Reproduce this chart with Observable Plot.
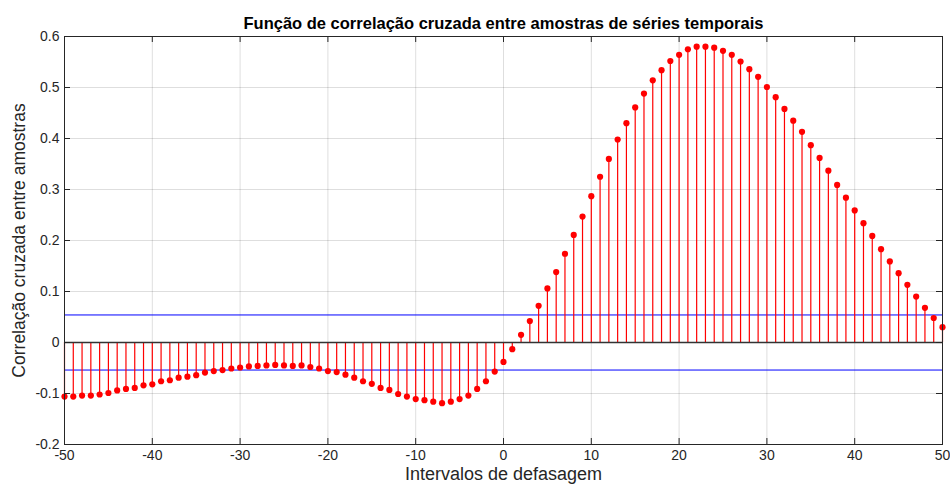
<!DOCTYPE html>
<html>
<head>
<meta charset="utf-8">
<script src="https://cdn.jsdelivr.net/npm/d3@7"></script>
<script src="https://cdn.jsdelivr.net/npm/@observablehq/plot@0.6"></script>
<style>
  html, body { margin: 0; padding: 0; background: #fff; }
  #chart svg { display: block; }
</style>
</head>
<body>
<div id="chart"></div>
<script>
const titleText = "Função de correlação cruzada entre amostras de séries temporais";
const xLabel = "Intervalos de defasagem";
const yLabel = "Correlação cruzada entre amostras";

const lags = [
  -50,-49,-48,-47,-46,-45,-44,-43,-42,-41,
  -40,-39,-38,-37,-36,-35,-34,-33,-32,-31,
  -30,-29,-28,-27,-26,-25,-24,-23,-22,-21,
  -20,-19,-18,-17,-16,-15,-14,-13,-12,-11,
  -10,-9,-8,-7,-6,-5,-4,-3,-2,-1,
  0,1,2,3,4,5,6,7,8,9,
  10,11,12,13,14,15,16,17,18,19,
  20,21,22,23,24,25,26,27,28,29,
  30,31,32,33,34,35,36,37,38,39,
  40,41,42,43,44,45,46,47,48,49,50
];
const xcf = [
  -0.106,-0.106,-0.104,-0.104,-0.102,-0.099,-0.094,-0.091,-0.089,-0.084,
  -0.082,-0.076,-0.074,-0.069,-0.067,-0.064,-0.059,-0.056,-0.054,-0.051,
  -0.049,-0.047,-0.046,-0.045,-0.044,-0.045,-0.046,-0.045,-0.048,-0.051,
  -0.056,-0.058,-0.063,-0.069,-0.076,-0.081,-0.089,-0.093,-0.101,-0.106,
  -0.111,-0.113,-0.116,-0.119,-0.116,-0.111,-0.104,-0.091,-0.076,-0.057,
  -0.038,-0.013,0.015,0.042,0.072,0.106,0.138,0.174,0.211,0.247,
  0.287,0.325,0.360,0.398,0.430,0.461,0.488,0.514,0.534,0.552,
  0.564,0.575,0.580,0.580,0.578,0.572,0.564,0.551,0.536,0.521,
  0.501,0.481,0.458,0.435,0.413,0.387,0.362,0.337,0.309,0.284,
  0.259,0.234,0.209,0.183,0.159,0.136,0.113,0.090,0.068,0.048,0.030
];
const confBounds = [0.054, -0.054];
const xTicks = [-50,-40,-30,-20,-10,0,10,20,30,40,50];
const yTicks = [-0.2,-0.1,0,0.1,0.2,0.3,0.4,0.5,0.6];

const data = lags.map((l, i) => ({lag: l, r: xcf[i]}));

const W = 950, H = 484;
const mL = 64, mR = 8, mT = 36, mB = 40;
const frameW = W - mL - mR, frameH = H - mT - mB;
const tickLen = 6;
const axisColor = "#262626";
const fmtY = d => d === 0 ? "0" : String(d.toFixed(1)).replace("\u2212", "-");
const fmtX = d => String(d);

const chart = Plot.plot({
  width: W,
  height: H,
  marginLeft: mL,
  marginRight: mR,
  marginTop: mT,
  marginBottom: mB,
  style: {fontFamily: "'Liberation Sans', Arial, Helvetica, sans-serif", background: "#fff", color: axisColor},
  x: {domain: [-50, 50], axis: null},
  y: {domain: [-0.2, 0.6], axis: null},
  marks: [
    Plot.gridX(xTicks, {stroke: "#000", strokeOpacity: 0.13}),
    Plot.gridY(yTicks, {stroke: "#000", strokeOpacity: 0.13}),
    Plot.ruleY(confBounds, {y: d => d, stroke: "#0000ff", strokeWidth: 1}),
    Plot.ruleX(data, {x: "lag", y1: 0, y2: "r", stroke: "#ff0000", strokeWidth: 1.2}),
    Plot.ruleY([0], {stroke: "#333", strokeWidth: 1.6}),
    Plot.dot(data, {x: "lag", y: "r", r: 3.1, fill: "#ff0000", stroke: null}),
    Plot.frame({stroke: axisColor, strokeWidth: 1}),
    // inward ticks
    Plot.ruleX(xTicks, {x: d => d, insetTop: frameH - tickLen, stroke: axisColor}),
    Plot.ruleX(xTicks, {x: d => d, insetBottom: frameH - tickLen, stroke: axisColor}),
    Plot.ruleY(yTicks, {y: d => d, insetRight: frameW - tickLen, stroke: axisColor}),
    Plot.ruleY(yTicks, {y: d => d, insetLeft: frameW - tickLen, stroke: axisColor}),
    // tick labels
    Plot.axisX(xTicks, {tickSize: 0, tickPadding: 6, tickFormat: fmtX, fontSize: 14, label: null, fill: axisColor}),
    Plot.axisY(yTicks, {tickSize: 0, tickPadding: 5, tickFormat: fmtY, fontSize: 14, label: null, fill: axisColor}),
    // title and axis labels
    Plot.text([titleText], {frameAnchor: "top", dy: -8, lineAnchor: "bottom", fontSize: 16.5, fontWeight: "bold", fill: "#000"}),
    Plot.text([xLabel], {frameAnchor: "bottom", dy: 23, lineAnchor: "top", fontSize: 18, fill: axisColor}),
    Plot.text([yLabel], {frameAnchor: "left", dx: -45, rotate: -90, textAnchor: "middle", lineAnchor: "middle", fontSize: 17.5, fill: axisColor})
  ]
});
document.getElementById("chart").appendChild(chart);
</script>
</body>
</html>
